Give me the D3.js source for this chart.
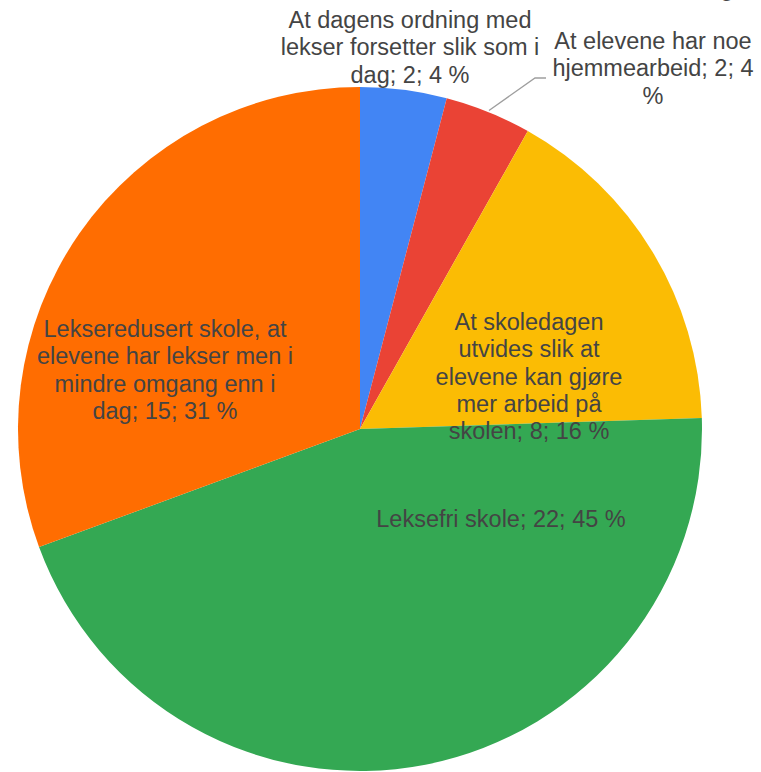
<!DOCTYPE html>
<html>
<head>
<meta charset="utf-8">
<script src="https://cdn.jsdelivr.net/npm/d3@7"></script>
<style>
  body { margin: 0; background: #fff; }
  svg { display: block; }
</style>
</head>
<body>
<svg id="chart"></svg>
<script>
// Chart size
const width = 761, height = 772;

// Data, clockwise from 12 o'clock
const categories = [
  "At dagens ordning med lekser forsetter slik som i dag",
  "At elevene har noe hjemmearbeid",
  "At skoledagen utvides slik at elevene kan gjøre mer arbeid på skolen",
  "Leksefri skole",
  "Lekseredusert skole, at elevene har lekser men i mindre omgang enn i dag"
];
const values = [2, 2, 8, 22, 15];
const percents = ["4 %", "4 %", "16 %", "45 %", "31 %"];
const colors = ["#4285f4", "#ea4335", "#fbbc04", "#34a853", "#ff6d01"];

// Label lines as wrapped in the picture
const labelLines = [
  ["At dagens ordning med", "lekser forsetter slik som i", "dag; 2; 4 %"],
  ["At elevene har noe", "hjemmearbeid; 2; 4", "%"],
  ["At skoledagen", "utvides slik at", "elevene kan gjøre", "mer arbeid på", "skolen; 8; 16 %"],
  ["Leksefri skole; 22; 45 %"],
  ["Lekseredusert skole, at", "elevene har lekser men i", "mindre omgang enn i", "dag; 15; 31 %"]
];

// Layout
const cx = 360, cy = 429, radius = 342;
const lineHeight = 27.3;
const labelAnchor = [[410, 28], [653, 49], [529, 330], [501, 527], [165, 337]];

const svg = d3.select("#chart")
    .attr("width", width)
    .attr("height", height);

const pie = d3.pie().sort(null).value(d => d);
const arc = d3.arc().innerRadius(0).outerRadius(radius);
const arcs = pie(values);

const g = svg.append("g").attr("transform", `translate(${cx},${cy})`);

g.selectAll("path")
    .data(arcs)
    .enter().append("path")
    .attr("d", arc)
    .attr("fill", (d, i) => colors[i]);

// Leader line for the small red slice
const redArc = arcs[1];
const redMid = (redArc.startAngle + redArc.endAngle) / 2;
const rIn = radius * 1.005;
const p0 = [cx + rIn * Math.sin(redMid), cy - rIn * Math.cos(redMid)];
svg.append("polyline")
    .attr("points", `${p0[0]},${p0[1]} 535,78 546,78`)
    .attr("fill", "none")
    .attr("stroke", "#9e9e9e")
    .attr("stroke-width", 1.3);

// Labels
const labels = svg.selectAll("text.label")
    .data(labelLines)
    .enter().append("text")
    .attr("class", "label")
    .attr("text-anchor", "middle")
    .attr("font-family", "Liberation Sans, Arial, sans-serif")
    .attr("font-size", 23.5)
    .attr("fill", "#444");

labels.each(function(lines, i) {
    const t = d3.select(this);
    lines.forEach((line, j) => {
        t.append("tspan")
            .attr("x", labelAnchor[i][0])
            .attr("y", labelAnchor[i][1] + j * lineHeight)
            .text(line);
    });
});

// Clipped title fragment at the top edge, as in the picture
svg.append("text")
    .attr("x", 727)
    .attr("y", -4)
    .attr("text-anchor", "middle")
    .attr("font-family", "Liberation Sans, Arial, sans-serif")
    .attr("font-size", 24)
    .attr("fill", "#444")
    .text("g");
</script>
</body>
</html>
